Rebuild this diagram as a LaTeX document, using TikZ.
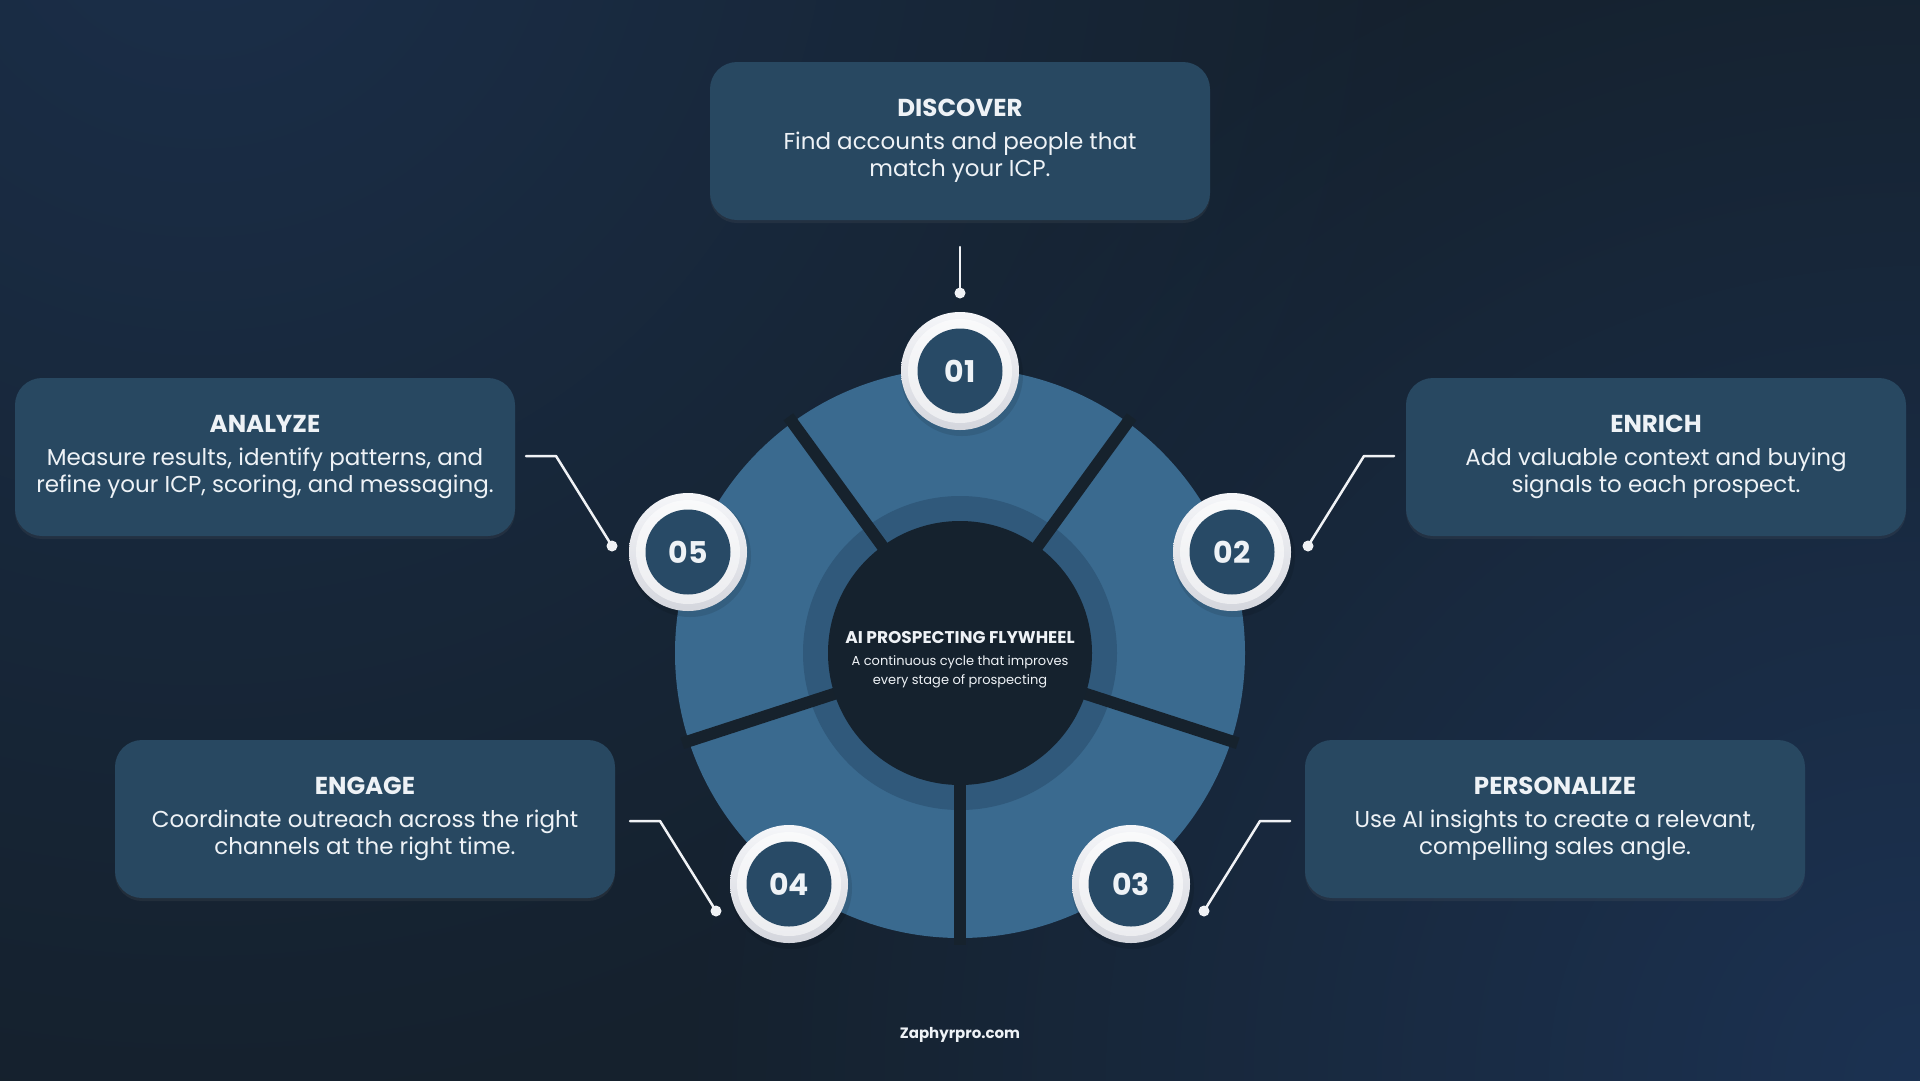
\documentclass[tikz,border=0pt]{standalone}
\usepackage{fontspec}
\setmainfont{Poppins}
\usetikzlibrary{calc,shadows,fadings}
\tikzfading[name=glowfade, inner color=transparent!0, outer color=transparent!100]
\definecolor{bgbase}{HTML}{15212D}
\definecolor{glowA}{HTML}{1B2F4A}
\definecolor{glowB}{HTML}{1C3252}
\definecolor{segc}{HTML}{3A6A8F}
\definecolor{ringc}{HTML}{30597B}
\definecolor{centerc}{HTML}{15222E}
\definecolor{gapc}{HTML}{16222D}
\definecolor{boxc}{HTML}{284861}
\definecolor{txtc}{HTML}{EEF2F6}
\definecolor{numc}{HTML}{284A66}
\definecolor{ringw}{HTML}{F5F6F9}
\definecolor{ringg}{HTML}{D4D6DD}
\definecolor{linec}{HTML}{F0F2F5}
\tikzset{
  box/.style={fill=boxc, rounded corners=27pt, minimum width=500pt, minimum height=158pt, inner sep=0pt,
    drop shadow={opacity=0.12, shadow xshift=0pt, shadow yshift=-3pt}},
  ttl/.style={anchor=base, text=txtc, inner sep=0pt, font=\fontsize{24.5}{28}\selectfont\bfseries},
  bdy/.style={anchor=base, text=txtc, inner sep=0pt, font=\fontsize{23}{28}\selectfont},
  ctitle/.style={anchor=base, text=txtc, inner sep=0pt, font=\fontsize{17}{19}\selectfont\bfseries},
  csub/.style={anchor=base, text=txtc, inner sep=0pt, font=\fontsize{13}{19}\selectfont},
  numdisc/.style={circle, fill=numc, minimum size=85pt, inner sep=0pt, text=txtc, font=\fontsize{30}{30}\selectfont\bfseries},
  dotn/.style={circle, fill=linec, minimum size=11pt, inner sep=0pt},
  conn/.style={draw=linec, line width=2.5pt, line join=round, line cap=round},
}
\newcommand{\numring}[3]{%
  \fill[black, opacity=0.1] ($(#1)+(2,4)$) circle (61);
  \shade[shading=axis, shading angle=135, top color=ringw, bottom color=ringg] (#1) circle (59);
  \fill[white, opacity=0.55] (#1) circle (52);
  \node[numdisc] (#2) at (#1) {#3};
}
\begin{document}
\begin{tikzpicture}[x=1pt,y=-1pt]
\useasboundingbox (0,0) rectangle (1920,1080);
% background
\fill[bgbase] (-10,-10) rectangle (1930,1090);
\begin{scope}
  \clip (-10,-10) rectangle (1930,1090);
  \fill[glowA, path fading=glowfade] (200,-120) circle (1250);
  \fill[glowB, path fading=glowfade] (1920,1080) circle (1250);
\end{scope}

% wheel
\coordinate (c) at (960,653);
\fill[segc] (c) circle (285);
\fill[ringc] (c) circle (157);
\foreach \a in {18,90,162,234,306} \draw[gapc, line width=12pt] (c) -- ++(\a:292);
\fill[centerc] (c) circle (132);

\node[ctitle] (ct) at (960,643) {AI PROSPECTING FLYWHEEL};
\node[csub] (cs1) at (960,665) {A continuous cycle that improves};
\node[csub] (cs2) at (960,684) {every stage of prospecting};

% boxes
\node[box] (b1) at (960,141) {};
\node[box] (b2) at (1656,457) {};
\node[box] (b3) at (1555,819) {};
\node[box] (b4) at (365,819) {};
\node[box] (b5) at (265,457) {};

\node[ttl] (t1) at ($(b1.north)+(0,55)$) {DISCOVER};
\node[bdy] (l1a) at ($(b1.north)+(0,88)$) {Find accounts and people that};
\node[bdy] (l1b) at ($(b1.north)+(0,115)$) {match your ICP.};

\node[ttl] (t2) at ($(b2.north)+(0,55)$) {ENRICH};
\node[bdy] (l2a) at ($(b2.north)+(0,88)$) {Add valuable context and buying};
\node[bdy] (l2b) at ($(b2.north)+(0,115)$) {signals to each prospect.};

\node[ttl] (t3) at ($(b3.north)+(0,55)$) {PERSONALIZE};
\node[bdy] (l3a) at ($(b3.north)+(0,88)$) {Use AI insights to create a relevant,};
\node[bdy] (l3b) at ($(b3.north)+(0,115)$) {compelling sales angle.};

\node[ttl] (t4) at ($(b4.north)+(0,55)$) {ENGAGE};
\node[bdy] (l4a) at ($(b4.north)+(0,88)$) {Coordinate outreach across the right};
\node[bdy] (l4b) at ($(b4.north)+(0,115)$) {channels at the right time.};

\node[ttl] (t5) at ($(b5.north)+(0,55)$) {ANALYZE};
\node[bdy] (l5a) at ($(b5.north)+(0,88)$) {Measure results, identify patterns, and};
\node[bdy] (l5b) at ($(b5.north)+(0,115)$) {refine your ICP, scoring, and messaging.};

% number circles
\coordinate (p1) at (960,371);
\coordinate (p2) at (1232,552);
\coordinate (p3) at (1131,884);
\coordinate (p4) at (789,884);
\coordinate (p5) at (688,552);
\numring{p1}{n1}{01}
\numring{p2}{n2}{02}
\numring{p3}{n3}{03}
\numring{p4}{n4}{04}
\numring{p5}{n5}{05}

% connectors
\node[dotn] (d1) at (960,293) {};
\node[dotn] (d2) at (1308,546) {};
\node[dotn] (d3) at (1204,911) {};
\node[dotn] (d4) at (716,911) {};
\node[dotn] (d5) at (612,546) {};
\coordinate (e1) at (960,247);
\coordinate (e2) at (1394,456);
\coordinate (e3) at (1290,821);
\coordinate (e4) at (630,821);
\coordinate (e5) at (526,456);
\draw[conn] (e1) -- (d1.center);
\draw[conn] (e2) -- ++(-30,0) -- (d2.center);
\draw[conn] (e3) -- ++(-30,0) -- (d3.center);
\draw[conn] (e4) -- ++(30,0) -- (d4.center);
\draw[conn] (e5) -- ++(30,0) -- (d5.center);

% footer
\node[anchor=base, text=txtc, inner sep=0pt, font=\fontsize{15}{18}\selectfont\bfseries] (foot) at (960,1038) {Zaphyrpro.com};
\end{tikzpicture}
\end{document}
